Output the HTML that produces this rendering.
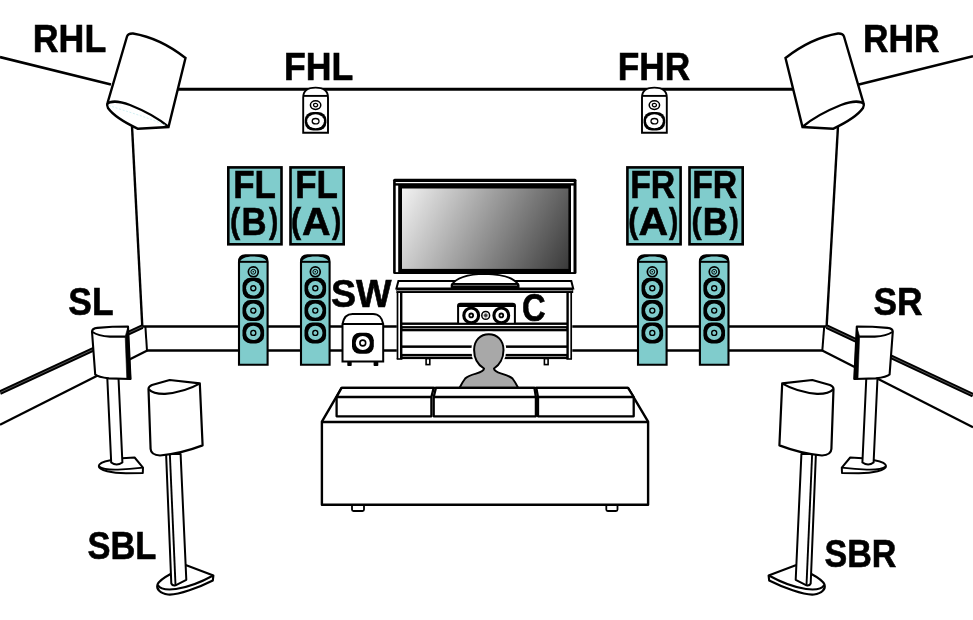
<!DOCTYPE html>
<html><head><meta charset="utf-8">
<style>
html,body{margin:0;padding:0;background:#fff;width:973px;height:620px;overflow:hidden}
svg{display:block;will-change:transform}
text{font-family:"Liberation Sans",sans-serif;font-weight:bold;fill:#000;stroke:#000;stroke-width:0.6}
</style></head><body>
<svg width="973" height="620" viewBox="0 0 973 620">
<defs>
<linearGradient id="scr" gradientUnits="userSpaceOnUse" x1="402" y1="188.5" x2="565" y2="275.1">
<stop offset="0" stop-color="#f2f2f2"/><stop offset="1" stop-color="#3a3a3a"/>
</linearGradient>
<g id="woof">
<rect x="-10.8" y="-10.5" width="21.6" height="21" rx="8" fill="#000"/>
<circle r="7.2" fill="#80cccc"/>
<circle r="2.5" fill="#80cccc" stroke="#000" stroke-width="1.4"/>
</g>
<g id="tower">
<path d="M-14.3,111.5 V8.5 Q-14.3,2.1 -8,2.1 H8 Q14.3,2.1 14.3,8.5 V111.5 Z" fill="#80cccc" stroke="#000" stroke-width="2.1"/>
<path d="M-14.3,9 V8.5 Q-14.3,2.1 -8,2.1 H8 Q14.3,2.1 14.3,8.5 V9 Z" fill="#000"/>
<path d="M-13.3,8.4 C-12,5.2 -8,3.3 0,3.2 C8,3.3 12,5.2 13.3,8.4 Z" fill="#80cccc"/>
<line x1="-14.3" y1="8.5" x2="14.3" y2="8.5" stroke="#000" stroke-width="1.9"/>
<circle cx="0" cy="18.5" r="4.95" fill="#80cccc" stroke="#000" stroke-width="1.7"/>
<circle cx="0" cy="18.5" r="2.4" fill="#80cccc" stroke="#000" stroke-width="1"/>
<circle cx="0" cy="18.5" r="0.8" fill="#000"/>
<use href="#woof" x="0" y="35"/>
<use href="#woof" x="0" y="57.3"/>
<use href="#woof" x="0" y="79.6"/>
</g>
<g id="fhsp">
<path d="M-12.4,43.3 V8 Q-12.4,-1.8 0,-1.8 Q12.4,-1.8 12.4,8 V43.3 Z" fill="#fff" stroke="#000" stroke-width="1.9"/>
<line x1="-12.4" y1="6.5" x2="12.4" y2="6.5" stroke="#000" stroke-width="1.9"/>
<ellipse cx="0" cy="15.7" rx="5.2" ry="4.3" fill="#fff" stroke="#000" stroke-width="1.5"/>
<ellipse cx="0" cy="15.7" rx="2.1" ry="1.7" fill="#fff" stroke="#000" stroke-width="1.2"/>
<rect x="-10.8" y="22.5" width="21.6" height="18.6" rx="8.5" ry="8" fill="#000"/>
<ellipse cx="0" cy="31.8" rx="8.4" ry="7" fill="#fff"/>
<ellipse cx="0" cy="31.8" rx="3.4" ry="2.7" fill="none" stroke="#000" stroke-width="1.3"/>
</g>
<g id="box">
<rect x="1.3" y="1.3" width="53.2" height="76.9" fill="#80cccc" stroke="#000" stroke-width="2.6"/>
</g>
<!-- SL speaker + stand, left side coordinates -->
<g id="slsp" stroke="#000" stroke-linejoin="round">
<path d="M110.5,460.3 C104,461.5 98.8,463.5 98.8,466 C98.8,470.5 112,473.2 126,473.2 L142.8,473 L143,467.6 L134.6,457.5 L122,458.2 Z" fill="#fff" stroke-width="2"/>
<path d="M99,466.5 C102,469 110,469.8 118,469.6 C128,469.3 138,468.2 143,467.6" fill="none" stroke-width="1.8"/>
<path d="M107.3,378 L111.2,462.5 Q116.5,466.5 122.4,462.5 L118.5,378 Z" fill="#fff" stroke-width="2"/>
<path d="M92,331.5 Q92,328.5 97.4,327.9 Q112,326.5 128,326.5 L130.5,379 L109,378.4 Q98,377 95.2,374.5 Z" fill="#fff" stroke-width="2.1"/>
<path d="M92.5,332 Q98,336 110,336.6 L125.6,336.6" fill="none" stroke-width="2.1"/>
<path d="M125.2,336.6 L128,326.5 L130.8,379 L126.8,379 Z" fill="#000" stroke-width="0.6"/>
</g>
<!-- SBL speaker -->
<g id="sblsp" stroke="#000" stroke-linejoin="round">
<path d="M170.6,574 C165,577 159,581 157.5,584.5 C156,589 160,593.5 168,594.5 C178,595.5 200,587 212.8,580.5 L213.4,575.5 L186.3,565.2 Z" fill="#fff" stroke-width="2.1"/>
<path d="M157.8,585 C160,589 168,590 176,589 C190,587 205,580 213.2,575.5" fill="none" stroke-width="2"/>
<path d="M166.1,454 L171.3,583.5 Q172.5,586 175.5,585.3 L186.3,579.8 L180.6,454 Z" fill="#fff" stroke-width="2"/>
<path d="M169.9,455 L175.5,585" fill="none" stroke-width="1.9"/>
<path d="M148.5,389 Q148.5,386.5 152,385 L169.7,380 L199.8,383.3 L202.6,445.4 Q180,454 160,455.5 Q151,455 150.6,449 Z" fill="#fff" stroke-width="2.2"/>
<path d="M149,389.5 Q153,394 165,393.8 Q185,392 199.5,383.6" fill="none" stroke-width="2.2"/>
</g>
<!-- RHL speaker -->
<g id="rhlsp">
<path d="M127,36.5 Q128,33.3 133,33.5 Q160,38 185.5,58 L168.5,127 L138,128.8 Q115,118 108,108 Q106.5,105 107.5,103 Z" fill="#fff" stroke="#000" stroke-width="2.4"/>
<path d="M107,104 C110,101 118,100.5 130,105 C145,111 158,118 168,126.5" fill="none" stroke="#000" stroke-width="2.4"/>
</g>
</defs>

<!-- walls & ceiling -->
<g stroke="#000" fill="none">
<line x1="0" y1="57.1" x2="111" y2="84.6" stroke-width="2.6"/>
<line x1="858.8" y1="84.5" x2="973" y2="56.2" stroke-width="2.6"/>
<line x1="170" y1="89.3" x2="800" y2="89.3" stroke-width="2.9"/>
<line x1="838" y1="126" x2="826.6" y2="326.5" stroke-width="2.4"/>
<line x1="132" y1="126" x2="142.3" y2="326.5" stroke-width="2.4"/>
<!-- baseboard -->
<line x1="142" y1="326.5" x2="826.8" y2="326.5" stroke-width="2.5"/>
<line x1="146.5" y1="350.5" x2="822.5" y2="350.5" stroke-width="2.5"/>
<line x1="145.4" y1="326.5" x2="147" y2="350.8" stroke-width="2"/>
<line x1="824.2" y1="326.5" x2="822.3" y2="350.8" stroke-width="2"/>
<line x1="142.4" y1="326.6" x2="0" y2="392.6" stroke-width="4.5"/>
<line x1="142.4" y1="326.6" x2="0" y2="392.6" stroke-width="0.6" stroke="#fff" stroke-opacity="0.55"/>
<line x1="147.3" y1="350.5" x2="0" y2="424.8" stroke-width="2.3"/>
<line x1="826.6" y1="326.6" x2="973" y2="395.2" stroke-width="4.5"/>
<line x1="826.6" y1="326.6" x2="973" y2="395.2" stroke-width="0.6" stroke="#fff" stroke-opacity="0.55"/>
<line x1="822.2" y1="350.5" x2="973" y2="427.3" stroke-width="2.3"/>
</g>

<use href="#rhlsp"/>
<path d="M109,105.5 C125,111 150,118 166,125.5" fill="none" stroke="#c6ecf0" stroke-width="0.8" stroke-dasharray="2,1.6"/>
<use href="#rhlsp" transform="matrix(-1,0,0,1,971,0)"/>

<!-- FH speakers -->
<use href="#fhsp" x="315.6" y="89.4"/>
<use href="#fhsp" x="654.4" y="89.4"/>

<!-- towers -->
<use href="#tower" x="253.3" y="253.3"/>
<use href="#tower" x="315.3" y="253.3"/>
<use href="#tower" x="652.3" y="253.3"/>
<use href="#tower" x="714.2" y="253.3"/>

<!-- boxes -->
<use href="#box" x="227" y="166.1"/>
<use href="#box" x="289.2" y="166.1"/>
<use href="#box" x="626.1" y="166.1"/>
<use href="#box" x="688.2" y="166.1"/>
<g font-size="38">
<text transform="translate(233.24,197.9) scale(0.921,1)">FL</text>
<text transform="translate(295.24,197.9) scale(0.921,1)">FL</text>
<text transform="translate(630.13,197.9) scale(0.889,1)">FR</text>
<text transform="translate(692.13,197.9) scale(0.889,1)">FR</text>
<text transform="translate(241.46,234.9) scale(0.913,1)">B</text>
<text transform="translate(301.96,234.9) scale(1.04,1)">A</text>
<text transform="translate(638.42,234.9) scale(1.08,1)">A</text>
<text transform="translate(702.66,234.9) scale(0.92,1)">B</text>
<text transform="translate(229.9,232.7) scale(0.8,0.917)">(</text>
<text transform="translate(290.9,232.7) scale(0.8,0.917)">(</text>
<text transform="translate(628.2,232.7) scale(0.8,0.917)">(</text>
<text transform="translate(691.5,232.7) scale(0.8,0.917)">(</text>
<text transform="translate(269,232.7) scale(0.727,0.917)">)</text>
<text transform="translate(331.9,232.7) scale(0.727,0.917)">)</text>
<text transform="translate(668.9,232.7) scale(0.727,0.917)">)</text>
<text transform="translate(729.6,232.7) scale(0.727,0.917)">)</text>
</g>

<!-- subwoofer -->
<g>
<rect x="347.3" y="358" width="4.4" height="8" rx="0.8" fill="#000"/>
<rect x="373.6" y="358" width="4.7" height="8" rx="0.8" fill="#000"/>
<path d="M342.5,361.4 V324 C343.5,318 347,313.9 352.5,313.9 H373 C378.5,313.9 382.3,318 383.2,324 V361.4 Z" fill="#fff" stroke="#000" stroke-width="2"/>
<line x1="342.5" y1="324" x2="383.2" y2="324" stroke="#000" stroke-width="1.9"/>
<rect x="352" y="332.8" width="21.8" height="21" rx="7.5" fill="#000"/>
<circle cx="362.8" cy="343" r="7.1" fill="#fff"/>
<circle cx="362.8" cy="343" r="2.9" fill="#fff" stroke="#000" stroke-width="1.6"/>
</g>

<!-- TV -->
<g>
<rect x="393.1" y="178.8" width="183.4" height="95.2" rx="1.5" fill="#000"/>
<rect x="395.7" y="182" width="178" height="1.2" fill="#fff"/>
<rect x="395.7" y="185.6" width="2.5" height="86.5" fill="#fff"/>
<rect x="571" y="185.6" width="2.5" height="86.5" fill="#fff"/>
<rect x="402" y="188.5" width="166.4" height="80.4" fill="url(#scr)"/>
</g>

<!-- cabinet -->
<rect x="396.8" y="292" width="175.5" height="67" fill="#fff"/>
<g stroke="#000" fill="none">
<path d="M398.4,281 H571.3 L573.2,288.5 H396.4 Z" fill="#fff" stroke-width="2"/>
<rect x="396.4" y="288" width="176.8" height="5" fill="#000" stroke="none"/>
<line x1="397" y1="290.6" x2="572.5" y2="290.6" stroke="#bbb" stroke-width="0.8"/>
<rect x="401" y="322.5" width="167" height="2.4" fill="#000" stroke="none"/>
<rect x="401" y="326.1" width="167" height="5.2" fill="#000" stroke="none"/>
<rect x="402.4" y="328" width="164" height="0.9" fill="#999" stroke="none"/>
<rect x="401" y="345.4" width="167" height="2.5" fill="#000" stroke="none"/>
<rect x="401" y="353.9" width="167" height="5.2" fill="#000" stroke="none"/>
<rect x="402.4" y="356.1" width="164" height="0.9" fill="#999" stroke="none"/>
<line x1="397.5" y1="292" x2="397.5" y2="359" stroke-width="1.7"/>
<line x1="401.2" y1="292" x2="401.2" y2="359" stroke-width="2.4"/>
<line x1="567.6" y1="292" x2="567.6" y2="359" stroke-width="2.4"/>
<line x1="571.2" y1="292" x2="571.2" y2="359" stroke-width="1.7"/>
<line x1="396.7" y1="359" x2="402.4" y2="359" stroke-width="1.6"/>
<line x1="566.4" y1="359" x2="572" y2="359" stroke-width="1.6"/>
<rect x="426.1" y="358.6" width="3.7" height="6" fill="#fff" stroke-width="1.6"/>
<rect x="544.4" y="358.6" width="3.7" height="6" fill="#fff" stroke-width="1.6"/>
</g>

<!-- tv base -->
<path d="M451.6,287.7 V285 Q458,274.3 485,273.8 Q512,274.3 518.6,285 V287.7 Z" fill="#fff" stroke="#000" stroke-width="1.8"/>
<rect x="451.6" y="283" width="67" height="4.7" fill="#000"/>
<line x1="453" y1="285.4" x2="517" y2="285.4" stroke="#999" stroke-width="0.7"/>
<!-- center speaker -->
<g>
<path d="M457.1,322.6 V306 Q457.1,302.7 460.4,302.7 H512.6 Q515.9,302.7 515.9,306 V322.6 Z" fill="#fff" stroke="none"/>
<path d="M458.1,324 V306 M514.9,324 V306" stroke="#000" stroke-width="2"/>
<path d="M457.1,307 V305.5 Q457.1,302.7 460.4,302.7 H512.6 Q515.9,302.7 515.9,305.5 V307 Z" fill="#000"/>
<circle cx="471.2" cy="315.4" r="7.4" fill="#fff" stroke="#000" stroke-width="3.1"/>
<circle cx="471.2" cy="315.4" r="1.9" fill="#fff" stroke="#000" stroke-width="1.8"/>
<circle cx="501.3" cy="315.4" r="7.4" fill="#fff" stroke="#000" stroke-width="3.1"/>
<circle cx="501.3" cy="315.4" r="1.9" fill="#fff" stroke="#000" stroke-width="1.8"/>
<circle cx="485.7" cy="315.4" r="3.9" fill="#fff" stroke="#000" stroke-width="1.5"/>
<circle cx="485.7" cy="315.4" r="1.8" fill="#333" stroke="#888" stroke-width="0.8"/>
</g>

<!-- person -->
<path d="M484,368.5 C478,365 474.1,358 474.1,350 C474.1,340 480.5,334.2 488.8,334.2 C497,334.2 503.5,340 503.5,350 C503.5,358 499.5,365 494,368.5 C494,371 497,372.3 501.5,373.6 C506.5,375 510,376 512.5,378.5 C514.5,381 516.5,384.5 518.5,388.5 L459.2,388.5 C461.2,384.5 463.2,381 465.2,378.5 C467.7,376 471,375 476,373.6 C480.5,372.3 484,371 484,368.5 Z" fill="#fff" stroke="#fff" stroke-width="5.5"/>
<path d="M484,368.5 C478,365 474.1,358 474.1,350 C474.1,340 480.5,334.2 488.8,334.2 C497,334.2 503.5,340 503.5,350 C503.5,358 499.5,365 494,368.5 C494,371 497,372.3 501.5,373.6 C506.5,375 510,376 512.5,378.5 C514.5,381 516.5,384.5 518.5,388.5 L459.2,388.5 C461.2,384.5 463.2,381 465.2,378.5 C467.7,376 471,375 476,373.6 C480.5,372.3 484,371 484,368.5 Z" fill="#a8a8a8" stroke="#000" stroke-width="2"/>
<!-- sofa -->
<g stroke="#000" fill="#fff" stroke-linejoin="round">
<path d="M352,503 V509.5 Q352,511 353.5,511 H362.5 Q364,511 364,509.5 V503" stroke-width="1.8"/>
<path d="M606.3,503 V509.5 Q606.3,511 607.8,511 H616 Q617.5,511 617.5,509.5 V503" stroke-width="1.8"/>
<path d="M341.6,387.9 H628 L648.1,421.7 V504.7 H321.9 V421.7 Z" stroke-width="2.4"/>
<line x1="321.9" y1="422" x2="648.1" y2="422" stroke-width="2.4"/>
<path d="M336.6,416.3 V397 L341.6,387.9 H433.7 L431.4,397 V416.3 Z M336.6,397 H431.4" stroke-width="2.3"/>
<path d="M433.7,416.3 V397 L435.9,387.9 H534.4 L535.9,397 V416.3 Z M433.7,397 H535.9" stroke-width="2.3"/>
<path d="M538,416.3 V397 L536.3,387.9 H628 L633.7,397 V416.3 Z M538,397 H633.7" stroke-width="2.3"/>
</g>
<!-- side speakers -->
<use href="#slsp"/>
<use href="#slsp" transform="matrix(-1,0,0,1,984.8,0)"/>
<use href="#sblsp"/>
<use href="#sblsp" transform="matrix(-1,0,0,1,982,0)"/>

<!-- labels -->
<g font-size="38">
<text transform="translate(32.82,52) scale(0.940,1)">RHL</text>
<text transform="translate(863.08,52) scale(0.928,1)">RHR</text>
<text transform="translate(283.91,80) scale(0.938,1)">FHL</text>
<text transform="translate(617.73,80) scale(0.928,1)">FHR</text>
<text transform="translate(331.03,307) scale(0.990,1)">SW</text>
<text transform="translate(522.03,320.6) scale(0.861,1)">C</text>
<text transform="translate(68.32,315) scale(0.932,1)">SL</text>
<text transform="translate(873.43,315) scale(0.929,1)">SR</text>
<text transform="translate(87.45,559) scale(0.908,1)">SBL</text>
<text transform="translate(824.44,567) scale(0.897,1)">SBR</text>
</g>
</svg>
</body></html>
